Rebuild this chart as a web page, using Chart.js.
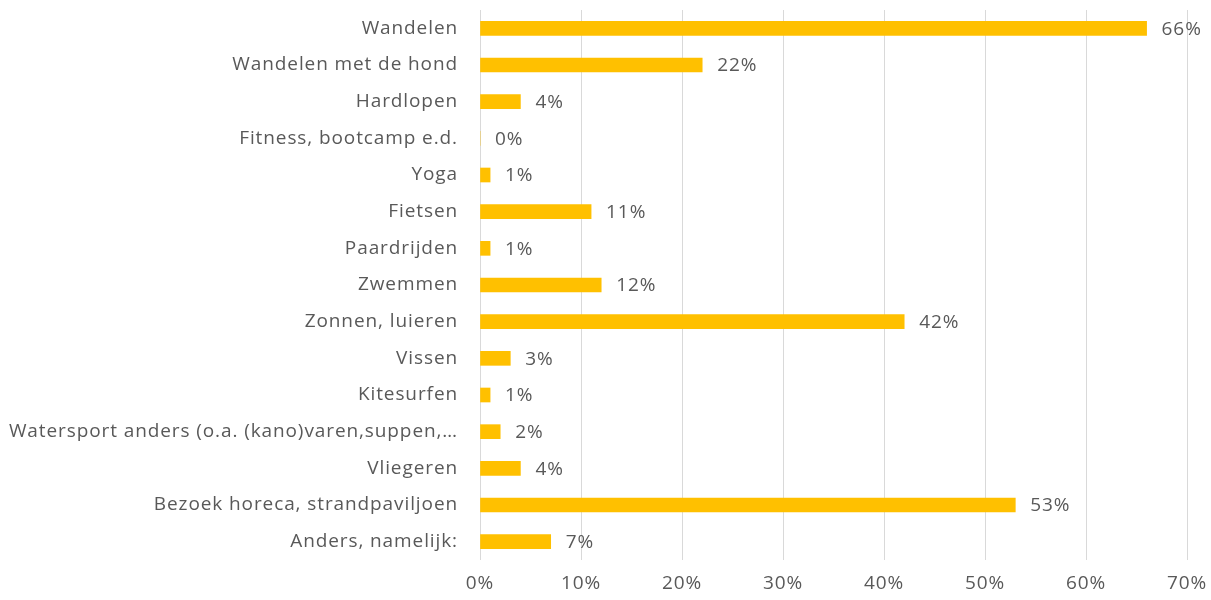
<!DOCTYPE html>
<html>
<head>
<meta charset="utf-8">
<script src="https://cdn.jsdelivr.net/npm/chart.js"></script>
<style>
  html, body { margin: 0; padding: 0; background: #fff; }
  #wrap { width: 1211px; height: 600px; }
</style>
</head>
<body>
<div id="wrap"><canvas id="chart" width="1211" height="600"></canvas></div>
<script>
const categories = [
    'Wandelen',
    'Wandelen met de hond',
    'Hardlopen',
    'Fitness, bootcamp e.d.',
    'Yoga',
    'Fietsen',
    'Paardrijden',
    'Zwemmen',
    'Zonnen, luieren',
    'Vissen',
    'Kitesurfen',
    'Watersport anders (o.a. (kano)varen,suppen,…',
    'Vliegeren',
    'Bezoek horeca, strandpaviljoen',
    'Anders, namelijk:'
];
const values = [66, 22, 4, 0, 1, 11, 1, 12, 42, 3, 1, 2, 4, 53, 7];
const xTicks = [0, 10, 20, 30, 40, 50, 60, 70];

const FONT = '"Open Sans", "Noto Sans", sans-serif';
const TEXT = '#595959';
const SPACING = '0.9px';

// widen the text a bit, the original font runs wide
const spacing = {
    id: 'spacing',
    beforeDraw(chart) { chart.ctx.letterSpacing = SPACING; }
};

// labels after each bar end
const barLabels = {
    id: 'barLabels',
    afterDatasetsDraw(chart) {
        const ctx = chart.ctx;
        const meta = chart.getDatasetMeta(0);
        ctx.save();
        ctx.letterSpacing = SPACING;
        ctx.font = '19px ' + FONT;
        ctx.fillStyle = TEXT;
        ctx.textBaseline = 'middle';
        ctx.textAlign = 'left';
        meta.data.forEach((bar, i) => {
            ctx.fillText(Math.round(values[i]) + '%', bar.x + 15, bar.y + 1);
        });
        ctx.restore();
    }
};

new Chart(document.getElementById('chart'), {
    type: 'bar',
    data: {
        labels: categories,
        datasets: [{
            data: values,
            backgroundColor: '#FFC000',
            borderWidth: 0,
            barThickness: 14
        }]
    },
    options: {
        indexAxis: 'y',
        responsive: false,
        animation: false,
        layout: { padding: { top: 10, right: 24, bottom: 0, left: 0 } },
        plugins: {
            legend: { display: false },
            tooltip: { enabled: false }
        },
        scales: {
            x: {
                min: 0,
                max: 70,
                afterBuildTicks: scale => { scale.ticks = xTicks.map(v => ({ value: v })); },
                afterFit: scale => {
                    scale.height = 40;
                    scale.paddingLeft = 0;
                    scale.paddingRight = 0;
                },
                grid: { color: '#d9d9d9', lineWidth: 1, drawTicks: false },
                border: { display: false },
                ticks: {
                    padding: 12,
                    color: TEXT,
                    font: { family: FONT, size: 19 },
                    callback: v => v + '%'
                }
            },
            y: {
                afterFit: scale => {
                    scale.width = 480;
                    scale.paddingTop = 0;
                    scale.paddingBottom = 0;
                },
                grid: { display: false, drawTicks: false },
                border: { display: false },
                ticks: {
                    padding: 22,
                    color: TEXT,
                    font: { family: FONT, size: 19 },
                    autoSkip: false
                }
            }
        }
    },
    plugins: [spacing, barLabels]
});
</script>
</body>
</html>
